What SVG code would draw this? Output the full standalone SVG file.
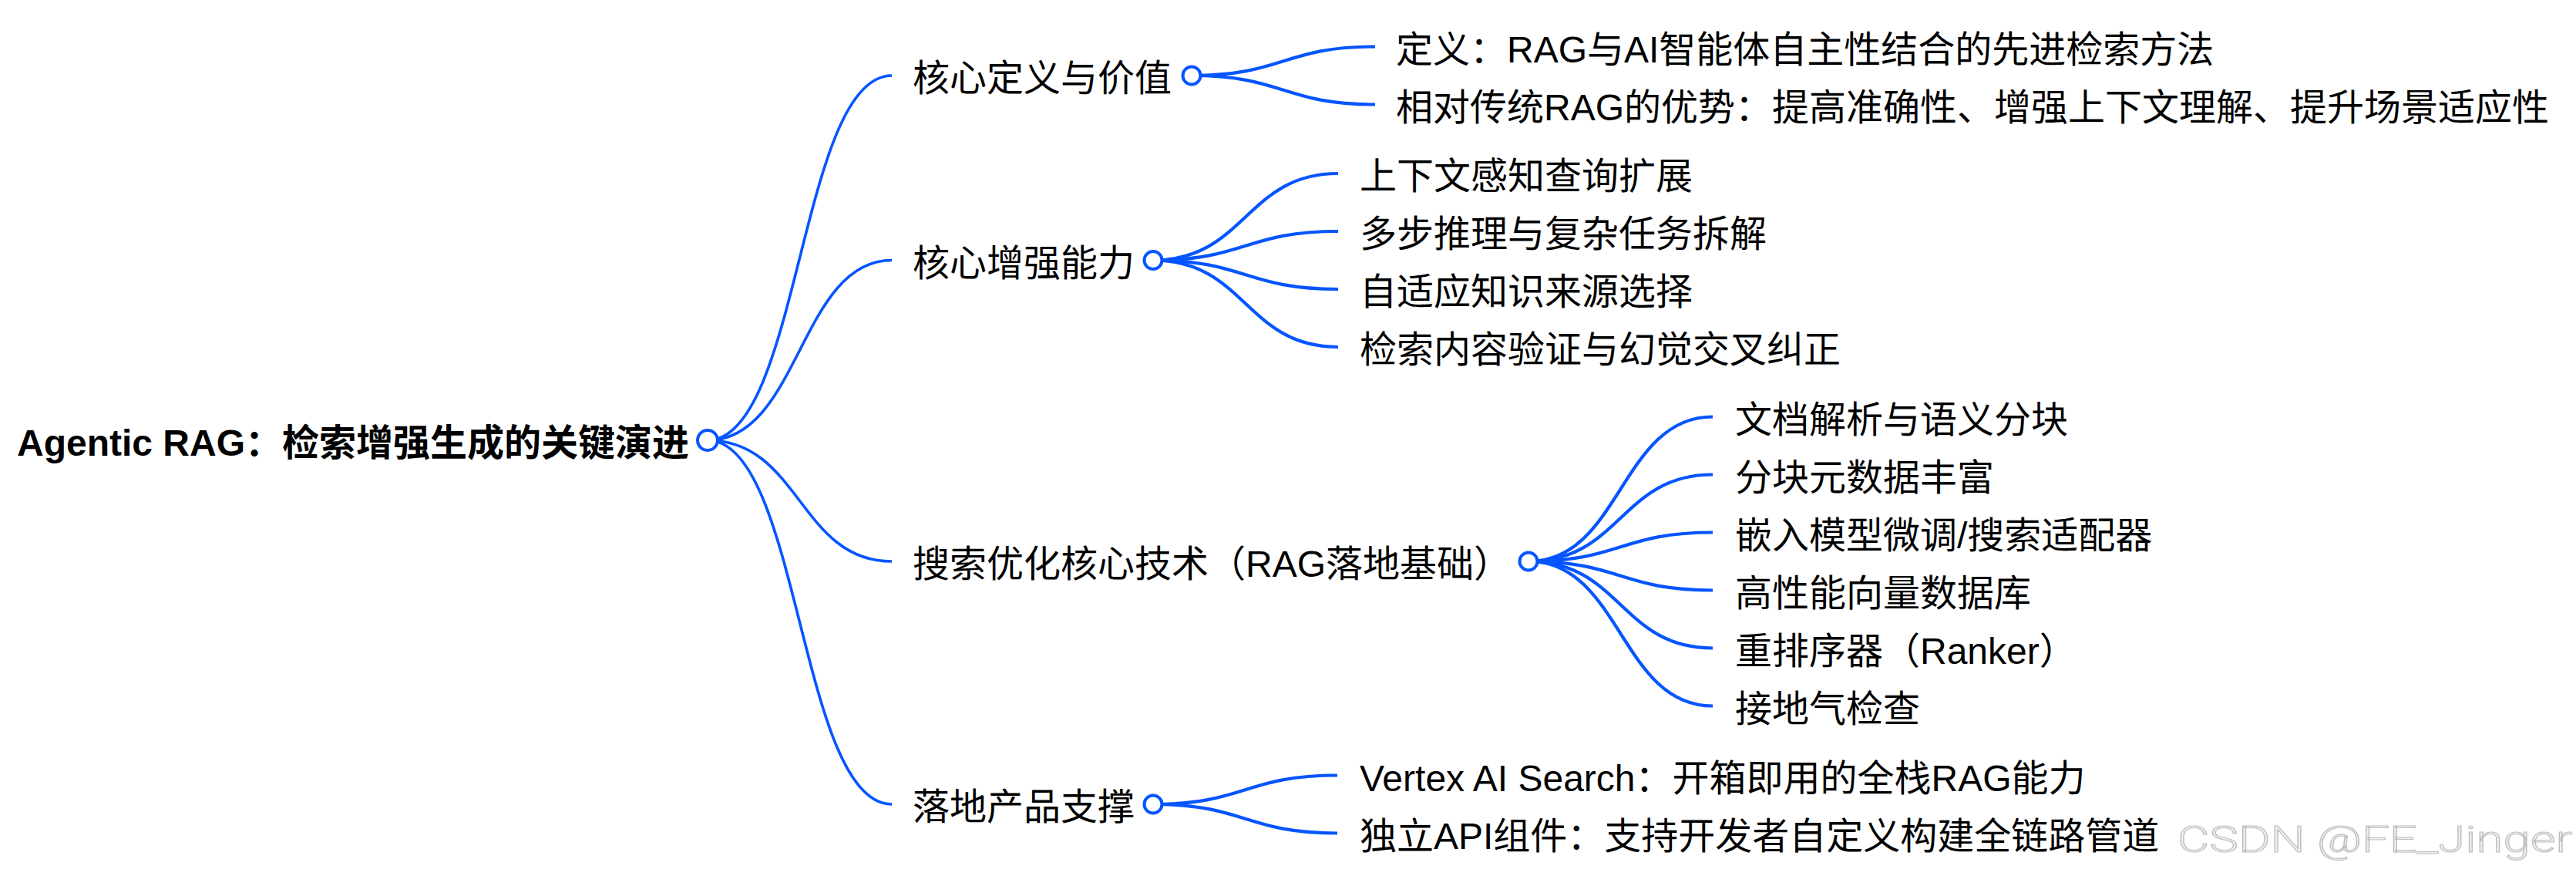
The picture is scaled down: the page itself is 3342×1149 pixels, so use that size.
<svg xmlns="http://www.w3.org/2000/svg" width="3342" height="1149" viewBox="0 0 3342 1149">
<style>
.t{font-family:"Liberation Sans","Noto Sans CJK SC",sans-serif;font-size:48px;fill:#000}
.root{font-weight:bold}
.l1{fill:none;stroke:#0555ff;stroke-width:3.6}
.l2{fill:none;stroke:#0555ff;stroke-width:4.2}
.dot{fill:#fff;stroke:#0555ff;stroke-width:4}
.wm{font-family:Roboto,"Liberation Sans",sans-serif;font-weight:300;font-size:49px;fill:#efefef;stroke:#bdbdbd;stroke-width:1.1}
</style>
<rect width="3342" height="1149" fill="#fff"/>
<g id="connectors">
<path class="l1" d="M918 571 C1037.5 571 1037.5 98 1157 98"/>
<path class="l1" d="M918 571 C1037.5 571 1037.5 337.5 1157 337.5"/>
<path class="l1" d="M918 571 C1037.5 571 1037.5 728 1157 728"/>
<path class="l1" d="M918 571 C1037.5 571 1037.5 1043 1157 1043"/>
<path class="l2" d="M1546 98 C1665 98 1665 60.5 1784 60.5"/>
<path class="l2" d="M1546 98 C1665 98 1665 135.5 1784 135.5"/>
<path class="l2" d="M1496 337.5 C1616 337.5 1616 225 1736 225"/>
<path class="l2" d="M1496 337.5 C1616 337.5 1616 300 1736 300"/>
<path class="l2" d="M1496 337.5 C1616 337.5 1616 375 1736 375"/>
<path class="l2" d="M1496 337.5 C1616 337.5 1616 450 1736 450"/>
<path class="l2" d="M1983 728 C2102.5 728 2102.5 540.5 2222 540.5"/>
<path class="l2" d="M1983 728 C2102.5 728 2102.5 615.5 2222 615.5"/>
<path class="l2" d="M1983 728 C2102.5 728 2102.5 690.5 2222 690.5"/>
<path class="l2" d="M1983 728 C2102.5 728 2102.5 765.5 2222 765.5"/>
<path class="l2" d="M1983 728 C2102.5 728 2102.5 840.5 2222 840.5"/>
<path class="l2" d="M1983 728 C2102.5 728 2102.5 915.5 2222 915.5"/>
<path class="l2" d="M1496 1043 C1615.5 1043 1615.5 1005.5 1735 1005.5"/>
<path class="l2" d="M1496 1043 C1615.5 1043 1615.5 1080.5 1735 1080.5"/>
</g>
<g id="root">
<text class="t root" x="22" y="591">Agentic RAG：检索增强生成的关键演进</text>
<circle class="dot" cx="918" cy="571" r="13"/>
</g>
<g id="n1">
<text class="t" x="1184" y="118">核心定义与价值</text>
<circle class="dot" cx="1546" cy="98" r="11.5"/>
</g>
<g id="n1-1"><text class="t" x="1811" y="80.5">定义：RAG与AI智能体自主性结合的先进检索方法</text></g>
<g id="n1-2"><text class="t" x="1811" y="155.5">相对传统RAG的优势：提高准确性、增强上下文理解、提升场景适应性</text></g>
<g id="n2">
<text class="t" x="1184" y="357.5">核心增强能力</text>
<circle class="dot" cx="1496" cy="337.5" r="11.5"/>
</g>
<g id="n2-1"><text class="t" x="1764" y="245">上下文感知查询扩展</text></g>
<g id="n2-2"><text class="t" x="1764" y="320">多步推理与复杂任务拆解</text></g>
<g id="n2-3"><text class="t" x="1764" y="395">自适应知识来源选择</text></g>
<g id="n2-4"><text class="t" x="1764" y="470">检索内容验证与幻觉交叉纠正</text></g>
<g id="n3">
<text class="t" x="1184" y="748">搜索优化核心技术（RAG落地基础）</text>
<circle class="dot" cx="1983" cy="728" r="11.5"/>
</g>
<g id="n3-1"><text class="t" x="2251" y="560.5">文档解析与语义分块</text></g>
<g id="n3-2"><text class="t" x="2251" y="635.5">分块元数据丰富</text></g>
<g id="n3-3"><text class="t" x="2251" y="710.5">嵌入模型微调/搜索适配器</text></g>
<g id="n3-4"><text class="t" x="2251" y="785.5">高性能向量数据库</text></g>
<g id="n3-5"><text class="t" x="2251" y="860.5">重排序器（Ranker）</text></g>
<g id="n3-6"><text class="t" x="2251" y="935.5">接地气检查</text></g>
<g id="n4">
<text class="t" x="1184" y="1063">落地产品支撑</text>
<circle class="dot" cx="1496" cy="1043" r="11.5"/>
</g>
<g id="n4-1"><text class="t" x="1764" y="1025.5">Vertex AI Search：开箱即用的全栈RAG能力</text></g>
<g id="n4-2"><text class="t" x="1764" y="1100.5">独立API组件：支持开发者自定义构建全链路管道</text></g>
<text class="wm" x="2825" y="1105" textLength="512" lengthAdjust="spacingAndGlyphs">CSDN @FE_Jinger</text>
</svg>
